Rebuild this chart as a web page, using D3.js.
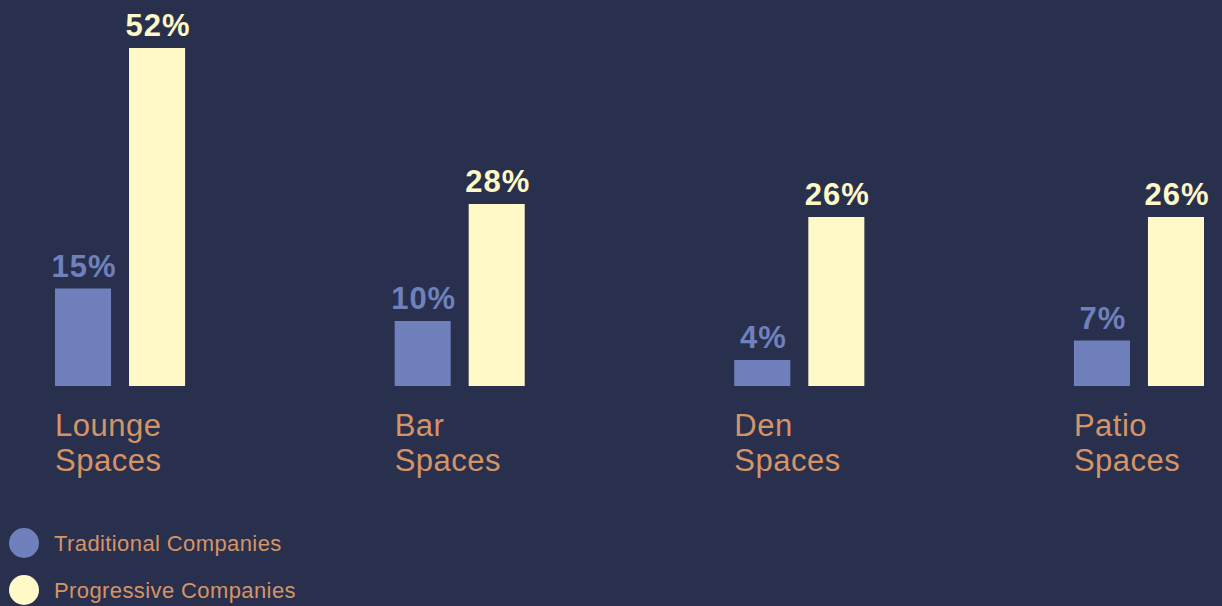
<!DOCTYPE html>
<html>
<head>
<meta charset="utf-8">
<script src="https://cdn.jsdelivr.net/npm/d3@7"></script>
<style>
html,body{margin:0;padding:0;background:#28304e;}
svg{display:block;}
</style>
</head>
<body>
<svg id="chart" width="1222" height="606"></svg>
<script>
const categories = ["Lounge Spaces", "Bar Spaces", "Den Spaces", "Patio Spaces"];
const seriesNames = ["Traditional Companies", "Progressive Companies"];
const traditional = [15, 10, 4, 7];
const progressive = [52, 28, 26, 26];
const colors = ["#6f80bd", "#fef9c6"];
const labelColor = "#d69466";
const fontFam = "'Liberation Sans', Arial, Helvetica, sans-serif";

const svg = d3.select("#chart");
const W = 1222, H = 606;
svg.append("rect").attr("width", W).attr("height", H).attr("fill", "#28304e");

const x0 = d3.scaleBand().domain(categories).range([55, 1204]).paddingInner(0.617).paddingOuter(0);
const x1 = d3.scaleBand().domain(seriesNames).range([0, x0.bandwidth()]).paddingInner(0.243).paddingOuter(0);
const y = d3.scaleLinear().domain([0, 52]).range([386, 48]);

const data = categories.map((c, i) => ({
  cat: c,
  vals: [
    {s: seriesNames[0], v: traditional[i], c: colors[0]},
    {s: seriesNames[1], v: progressive[i], c: colors[1]}
  ]
}));

const g = svg.selectAll("g.grp").data(data).enter().append("g")
  .attr("class", "grp")
  .attr("transform", d => `translate(${x0(d.cat)},0)`);

g.selectAll("rect").data(d => d.vals).enter().append("rect")
  .attr("x", d => x1(d.s))
  .attr("width", x1.bandwidth())
  .attr("y", d => y(d.v))
  .attr("height", d => y(0) - y(d.v))
  .attr("fill", d => d.c);

g.selectAll("text.val").data(d => d.vals).enter().append("text")
  .attr("class", "val")
  .attr("x", d => x1(d.s) + x1.bandwidth() / 2 + 1)
  .attr("y", d => y(d.v) - 12)
  .attr("text-anchor", "middle")
  .attr("font-family", fontFam)
  .attr("font-weight", "bold")
  .attr("font-size", 31)
  .attr("letter-spacing", 1)
  .attr("fill", d => d.c)
  .text(d => d.v + "%");

const catText = g.append("text")
  .attr("x", 0)
  .attr("y", 436)
  .attr("font-family", fontFam)
  .attr("font-size", 31)
  .attr("letter-spacing", 0.5)
  .attr("fill", labelColor);
catText.selectAll("tspan").data(d => d.cat.split(" ")).enter().append("tspan")
  .attr("x", 0)
  .attr("dy", (d, i) => i === 0 ? 0 : 35)
  .text(d => d);

const legend = svg.selectAll("g.leg").data(seriesNames).enter().append("g")
  .attr("class", "leg")
  .attr("transform", (d, i) => `translate(24,${543 + i * 47})`);
legend.append("circle").attr("r", 15).attr("fill", (d, i) => colors[i]);
legend.append("text")
  .attr("x", 30)
  .attr("y", 8)
  .attr("font-family", fontFam)
  .attr("font-size", 22)
  .attr("letter-spacing", 0.4)
  .attr("fill", labelColor)
  .text(d => d);
</script>
</body>
</html>
